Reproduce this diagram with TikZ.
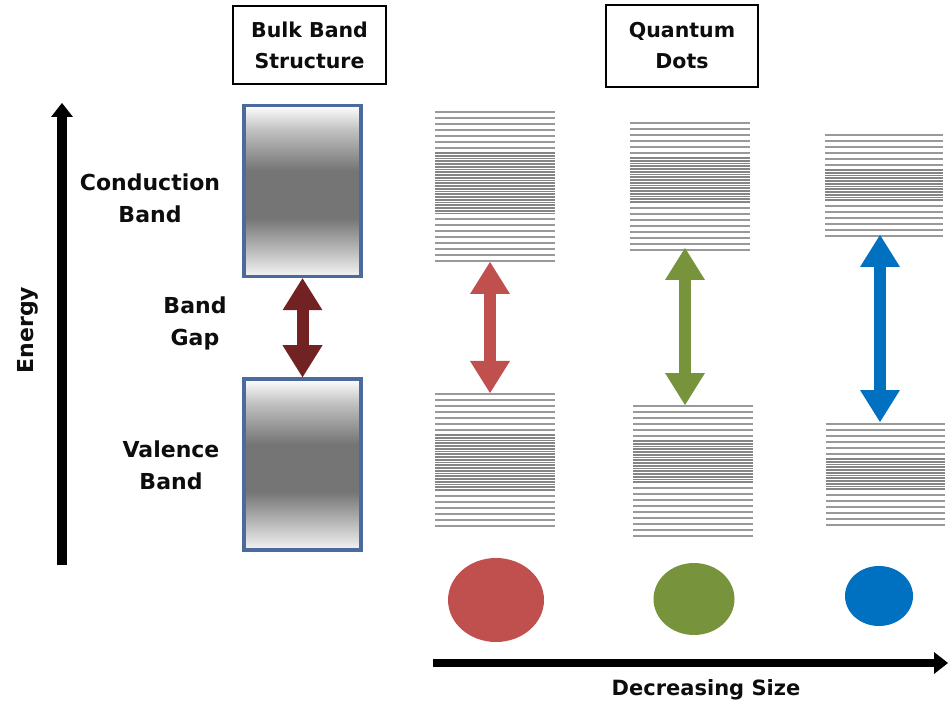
\documentclass[tikz,border=0pt]{standalone}
\usepackage{fontspec}
\setmainfont{DejaVu Sans}
\usetikzlibrary{arrows.meta,shapes.geometric}

\definecolor{bandblue}{HTML}{4A6B9C}
\definecolor{gapred}{HTML}{722222}
\definecolor{qdred}{HTML}{C0504D}
\definecolor{qdgreen}{HTML}{77933C}
\definecolor{qdblue}{HTML}{0070C0}

% grey band fill: light at both ends, dark in the middle
\pgfdeclareverticalshading{bandshade}{100bp}{color(0bp)=(white); color(25bp)=(white!96!black);
  color(31bp)=(black!22); color(42bp)=(black!54); color(56bp)=(black!54);
  color(68bp)=(black!24); color(75bp)=(white); color(100bp)=(white)}

% one stack of levels: x0, x1, top y, sparse lines, dense lines, sparse lines
\newcommand{\levelstack}[6]{%
  \foreach \i in {1,...,#4}
    \draw[level] (#1,{#3+6*(\i-1)}) -- (#2,{#3+6*(\i-1)});
  \foreach \i in {1,...,#5}
    \draw[level, black!48, line width=1.8pt] (#1,{#3+6*#4-1+2.75*(\i-1)}) -- (#2,{#3+6*#4-1+2.75*(\i-1)});
  \foreach \i in {1,...,#6}
    \draw[level] (#1,{#3+6*#4+5+2.75*(#5-1)+6*(\i-1)}) -- (#2,{#3+6*#4+5+2.75*(#5-1)+6*(\i-1)});
}

\begin{document}
\begin{tikzpicture}[x=1pt,y=-1pt,
  label/.style={font=\fontsize{22}{32}\selectfont\bfseries, text=black!95, align=center, inner sep=0pt},
  titlebox/.style={label, font=\fontsize{20.5}{31}\selectfont\bfseries, draw=black, line width=1.4pt,
    minimum width=153pt, minimum height=78pt},
  bandbox/.style={draw=bandblue, line width=3.5pt, minimum width=117pt, minimum height=171pt,
    inner sep=0pt, shading=bandshade},
  level/.style={black!40, line width=2pt},
  fatarrow/.style={line width=12pt, {Triangle[width=40pt,length=32pt,line width=0pt]}-{Triangle[width=40pt,length=32pt,line width=0pt]}},
  axisarrow/.style={line width=9.5pt, -{Triangle[width=22pt,length=14pt,line width=0pt]}},
  qdot/.style={ellipse, inner sep=0pt}]
\useasboundingbox (0,0) rectangle (948,711);

% titles
\node[titlebox] (bulk) at (309.5,45) {Bulk Band\\Structure};
\node[titlebox, minimum width=152pt, minimum height=82pt] (qd) at (682,46) {Quantum\\Dots};

% energy axis
\coordinate (ebot) at (62,565);
\coordinate (etop) at (62,103);
\draw[axisarrow] (ebot) -- (etop);
\node[label, rotate=90] (energy) at (28,330) {Energy};

% bulk bands
\node[bandbox] (cb) at (302.5,191) {};
\node[bandbox] (vb) at (302.5,464.5) {};
\draw[fatarrow, gapred] (cb.south) -- (vb.north);
\node[label] (cblabel) at (150,198) {Conduction\\Band};
\node[label] (gaplabel) at (195,323) {Band\\Gap};
\node[label] (vblabel) at (171,465) {Valence\\Band};

% quantum dot levels
\levelstack{435}{555}{112}{7}{23}{8}
\levelstack{435}{555}{394}{7}{21}{6}
\levelstack{630}{750}{123}{6}{17}{8}
\levelstack{633}{753}{406}{6}{16}{9}
\levelstack{825}{943}{135}{6}{12}{6}
\levelstack{826}{945}{424}{6}{12}{6}

% quantum dot gaps
\coordinate (rtop) at (490,262);
\coordinate (rbot) at (490,393);
\coordinate (gtop) at (685,248);
\coordinate (gbot) at (685,405);
\coordinate (btop) at (880,235);
\coordinate (bbot) at (880,422);
\draw[fatarrow, qdred] (rtop) -- (rbot);
\draw[fatarrow, qdgreen] (gtop) -- (gbot);
\draw[fatarrow, qdblue] (btop) -- (bbot);

% dots
\node[qdot, fill=qdred, minimum width=96pt, minimum height=84pt] (rdot) at (496,600) {};
\node[qdot, fill=qdgreen, minimum width=81pt, minimum height=72pt] (gdot) at (694,599) {};
\node[qdot, fill=qdblue, minimum width=68pt, minimum height=60pt] (bdot) at (879,596) {};

% size axis
\coordinate (sleft) at (433,663);
\coordinate (sright) at (948,663);
\draw[axisarrow, line width=8.5pt] (sleft) -- (sright);
\node[label, font=\fontsize{21}{31}\selectfont\bfseries] (size) at (706,690) {Decreasing Size};
\end{tikzpicture}
\end{document}
